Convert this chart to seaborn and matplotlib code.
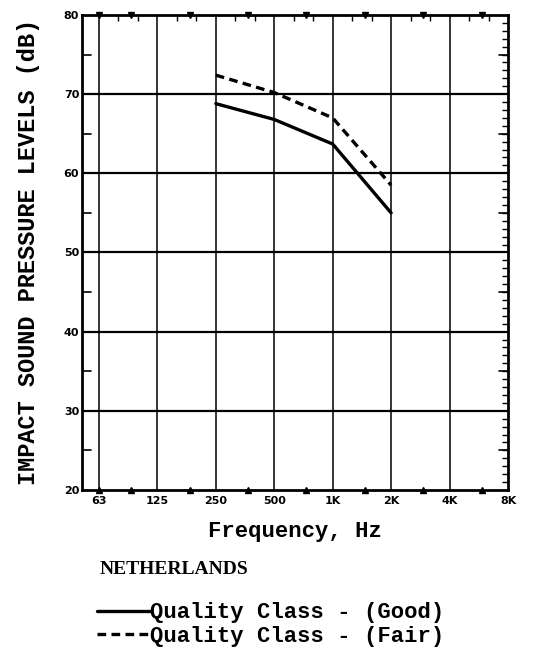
import pandas as pd
import matplotlib.pyplot as plt
import matplotlib.transforms as mtransforms
import seaborn as sns
import numpy as np

# octave band centres shown on the x axis
freq_labels = ["63", "125", "250", "500", "1K", "2K", "4K", "8K"]
# measured bands for the two curves
band_labels = ["250", "500", "1K", "2K"]
good_levels = [68.8, 66.8, 63.7, 55.0]
fair_levels = [72.4, 70.2, 67.0, 58.5]

series_names = ["Quality Class - (Good)", "Quality Class - (Fair)"]

octave_pos = {lab: i for i, lab in enumerate(freq_labels)}
data = pd.DataFrame({
    "Octave": [octave_pos[b] for b in band_labels] * 2,
    "Level": good_levels + fair_levels,
    "Class": [series_names[0]] * len(good_levels) + [series_names[1]] * len(fair_levels),
})

sns.set_style("white")
plt.rcParams.update({
    "text.color": "black",
    "axes.labelcolor": "black",
    "xtick.color": "black",
    "ytick.color": "black",
})
mono = ["Liberation Mono", "DejaVu Sans Mono"]
serif = ["Liberation Serif", "DejaVu Serif"]

fig = plt.figure(figsize=(5.37, 6.54), dpi=100)
ax = fig.add_axes([0.1527, 0.2508, 0.7933, 0.7263])

sns.lineplot(
    data=data, x="Octave", y="Level", hue="Class", style="Class",
    palette=["black", "black"], dashes=[(None, None), (2.6, 1.6)],
    linewidth=2.4, legend=True, ax=ax,
)
ax.get_legend().remove()

ax.set_xlim(-0.29, 7)
ax.set_ylim(20, 80)

# grid: heavy horizontals, lighter verticals
ax.set_xticks(range(len(freq_labels)))
ax.set_xticklabels(freq_labels)
ax.set_yticks(range(20, 81, 10))
for y in range(30, 80, 10):
    ax.axhline(y, color="black", lw=1.6, zorder=1)
for x in range(len(freq_labels) - 1):
    ax.axvline(x, color="black", lw=1.1, zorder=1)

# third-octave minor ticks top/bottom, 1 dB ticks left/right
thirds = [k + f for k in range(-1, 7) for f in (1 / 3, 2 / 3)]
ax.set_xticks([t for t in thirds if -0.29 < t < 7], minor=True)
ax.set_yticks(range(20, 81, 1), minor=True)
ax.tick_params(which="both", direction="in", top=True, right=True, color="black")
ax.tick_params(axis="x", which="major", length=0, pad=4)
ax.tick_params(axis="x", which="minor", length=4, width=1)
ax.tick_params(axis="y", which="major", length=0, pad=2)
ax.tick_params(axis="y", which="minor", length=4, width=1)
for y in range(25, 80, 10):
    ax.axhline(y, xmin=0, xmax=0.022, color="black", lw=1.2)
    ax.axhline(y, xmin=0.978, xmax=1, color="black", lw=1.2)

# small triangles at half-octave positions on the frame
half = [0] + [k + 0.55 for k in range(7)]
trans = mtransforms.blended_transform_factory(ax.transData, ax.transAxes)
ax.plot(half, [0] * len(half), "^", color="black", ms=5, transform=trans, clip_on=False)
ax.plot(half, [1] * len(half), "v", color="black", ms=5, transform=trans, clip_on=False)

for lab in ax.get_xticklabels() + ax.get_yticklabels():
    lab.set_fontsize(8)
    lab.set_fontweight("bold")

for s in ax.spines.values():
    s.set_color("black")
    s.set_linewidth(2)

ax.set_xlabel("Frequency, Hz", family=mono, fontsize=16, fontweight="bold")
ax.xaxis.set_label_coords(0.5, -0.065)
ax.set_ylabel("IMPACT SOUND PRESSURE LEVELS (dB)", family=mono, fontsize=17, fontweight="bold")
ax.yaxis.set_label_coords(-0.098, 0.502)

fig.text(100 / 537, 1 - 570 / 654, "NETHERLANDS", family=serif, fontsize=14,
         fontweight="bold", va="center", ha="left")

handles = ax.get_lines()[:2]
leg = fig.legend(
    handles, series_names, loc="center left",
    bbox_to_anchor=(97 / 537, 1 - 624.5 / 654), frameon=False,
    prop={"family": mono, "size": 16, "weight": "bold"},
    handlelength=2.4, handletextpad=0.0, labelspacing=0.1,
    borderpad=0, borderaxespad=0,
)

fig.savefig("out.png", dpi=100)
